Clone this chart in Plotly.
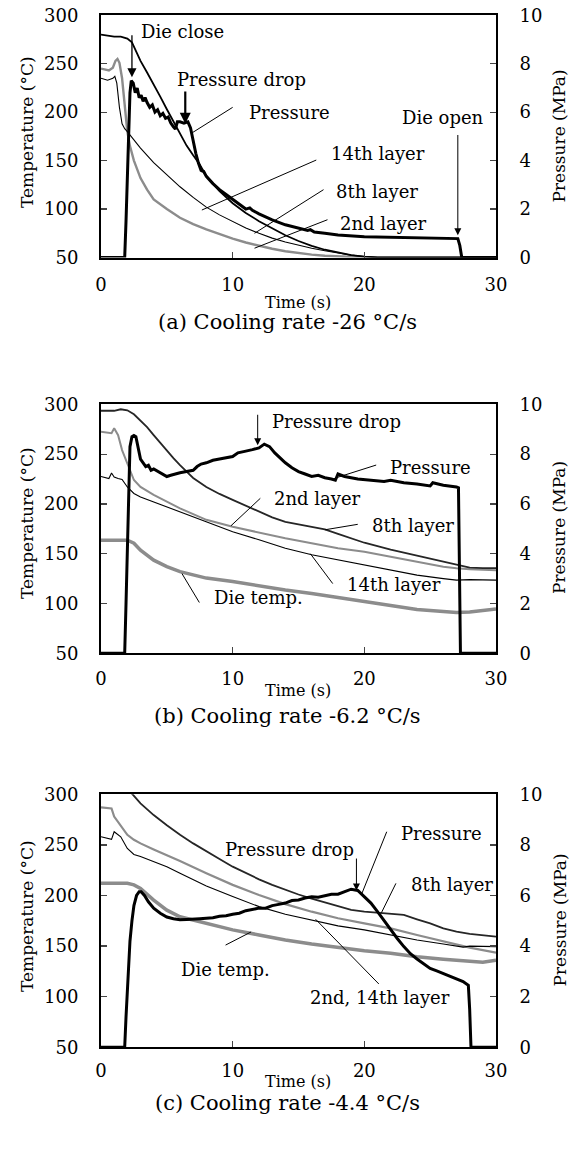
import plotly.graph_objects as go

W, H = 571, 1153

# ---------------- Panel (a): cooling rate -26 °C/s ----------------
a_8th_t = [0, 1, 1.5, 2.0, 2.35, 2.7, 3, 3.5, 4, 4.5, 5, 5.5, 6, 6.5, 7, 7.5, 8, 8.5, 9, 10, 11, 12, 13, 14, 15, 16, 17, 18, 19, 20, 21, 30]
a_8th_T = [280, 278, 278, 276, 272, 261, 253, 241, 229, 216, 203, 190, 177, 165.5, 155.5, 146, 134, 126, 118.5, 106, 96, 87.5, 80, 73, 67, 62, 58, 55, 52.5, 51, 50, 50]

a_14th_t = [0, 0.5, 0.9, 1.05, 1.2, 1.4, 1.6, 1.8, 2.0, 2.5, 3, 4, 5, 6, 7, 8, 9, 10, 11, 12, 13, 14, 15, 16, 17, 18, 19, 20, 21, 30]
a_14th_T = [235, 233, 235, 237, 230, 205, 188, 183, 180, 171, 163, 148, 135, 123, 112, 102, 94, 87, 80.5, 75, 70, 66, 62.5, 59.5, 57, 54.5, 52.5, 51, 50, 50]

a_2nd_t = [0, 0.6, 0.9, 1.1, 1.25, 1.4, 1.6, 1.8, 2.0, 2.2, 2.5, 3, 3.5, 4, 5, 6, 7, 8, 9, 10, 11, 12, 13, 14, 15, 16, 17, 18, 19, 20, 30]
a_2nd_T = [245, 243, 246, 253, 255, 251, 235, 205, 180, 165, 150, 132, 120, 110, 100, 91, 84.5, 79, 74, 69.5, 65.5, 62, 59, 56.5, 54.5, 53, 51.8, 51, 50.5, 50, 50]

a_p_t = [0, 1.8, 1.9, 2.0, 2.1, 2.2, 2.3, 2.45, 2.6, 2.75, 2.9, 3.05, 3.2, 3.35, 3.5, 3.7, 3.9, 4.1, 4.3, 4.5, 4.7, 4.9, 5.1, 5.3, 5.5, 5.65, 5.8, 6.0, 6.3, 6.6, 6.8, 7.0, 7.2, 7.4, 7.6, 7.8, 8.0, 8.5, 9.0, 9.5, 10, 10.5, 11, 11.3, 11.5, 12, 13, 14, 15, 15.7, 15.9, 16.2, 17, 18, 20, 22, 24, 26, 27.1, 27.25, 27.4, 30]
a_p_P = [0, 0, 1.5, 3.5, 5.5, 6.8, 7.3, 7.2, 6.8, 7.0, 6.6, 6.7, 6.45, 6.6, 6.4, 6.2, 6.3, 6.0, 6.1, 5.85, 5.95, 5.75, 5.8, 5.55, 5.4, 5.3, 5.6, 5.6, 5.55, 5.6, 5.35, 4.8, 4.3, 3.9, 3.6, 3.55, 3.35, 3.05, 2.8, 2.6, 2.4, 2.2, 2.0, 2.05, 1.95, 1.8, 1.55, 1.35, 1.2, 1.12, 1.15, 1.05, 1.0, 0.93, 0.86, 0.83, 0.8, 0.78, 0.78, 0.5, 0, 0]

# ---------------- Panel (b): cooling rate -6.2 °C/s ----------------
b_8th_t = [0, 1, 1.5, 2, 2.5, 3, 3.5, 4, 4.5, 5, 5.5, 6, 6.5, 7, 8, 9, 10, 11, 12, 13, 14, 15, 16, 17, 18, 19, 20, 22, 24, 26, 27, 28, 29, 30]
b_8th_T = [293.5, 293.5, 295, 294, 290, 284, 277, 269, 261, 253, 246, 239, 232, 226, 217, 210, 204, 198, 192, 186.5, 182, 179.5, 177.5, 174.5, 170, 165.5, 161, 154, 148, 142, 139, 136, 135.5, 135.5]

b_2nd_t = [0, 0.8, 1.0, 1.3, 1.6, 2.0, 2.5, 3, 4, 6, 8, 10, 12, 14, 16, 18, 20, 22, 24, 26, 27, 28, 30]
b_2nd_T = [272.5, 271, 276, 269, 254, 241, 224, 217, 209, 195.5, 184, 177, 171, 165.5, 160.5, 155.5, 152, 147, 142, 137, 135.5, 134.5, 133.5]

b_14th_t = [0, 0.6, 0.8, 1.0, 1.3, 1.6, 2.0, 2.5, 3, 4, 6, 8, 10, 12, 14, 16, 18, 20, 22, 24, 26, 27, 28, 30]
b_14th_T = [227.5, 225.5, 231, 227, 225.5, 224.5, 217, 210.5, 207, 202, 192, 182, 172, 164, 155.5, 149, 144, 139, 133.5, 128.5, 125, 123.5, 124, 123.5]

b_die_t = [0, 2, 2.5, 3, 4, 5, 6, 8, 10, 12, 14, 16, 18, 20, 22, 24, 26, 27, 28, 29, 30]
b_die_T = [163.5, 163.5, 160.5, 153.5, 143.5, 137, 132, 125.5, 122, 117.5, 113.5, 110, 106, 102, 97.5, 94, 92, 91, 91.5, 93, 94.5]

b_p_t = [0, 1.8, 1.9, 2.0, 2.1, 2.2, 2.35, 2.5, 2.65, 2.8, 3.0, 3.2, 3.4, 3.6, 3.8, 4.0, 4.3, 4.6, 5.0, 5.3, 5.6, 6.0, 6.5, 7.0, 7.3, 7.6, 8.0, 8.5, 9.0, 9.5, 10.0, 10.4, 10.7, 11.0, 11.5, 12.0, 12.4, 12.8, 13.2, 13.6, 14.0, 14.5, 15.0, 15.5, 16.0, 16.5, 17.0, 17.5, 17.8, 18.0, 18.5, 19.5, 20.5, 21.5, 22.0, 23.0, 24.0, 25.0, 25.2, 26.0, 27.0, 27.15, 27.3, 30]
b_p_P = [0, 0, 2.0, 4.5, 7.0, 8.3, 8.7, 8.75, 8.7, 8.3, 7.8, 7.65, 7.5, 7.55, 7.35, 7.4, 7.3, 7.2, 7.1, 7.15, 7.2, 7.25, 7.3, 7.35, 7.5, 7.6, 7.65, 7.75, 7.8, 7.85, 7.9, 8.05, 8.1, 8.12, 8.18, 8.25, 8.4, 8.3, 8.05, 7.85, 7.65, 7.45, 7.3, 7.2, 7.1, 7.15, 7.05, 7.0, 6.95, 7.2, 7.1, 7.0, 6.95, 6.9, 6.95, 6.85, 6.8, 6.72, 6.85, 6.75, 6.68, 6.65, 0, 0]

# ---------------- Panel (c): cooling rate -4.4 °C/s ----------------
c_8th_t = [0, 1, 2, 2.4, 3, 4, 5, 6, 7, 8, 9, 10, 11, 12, 13, 14, 15, 16, 17, 18, 19, 20, 21, 22, 23, 24, 25, 26, 27, 28, 29, 30]
c_8th_T = [318, 312, 304, 300, 291, 279.5, 269.5, 260, 251.5, 243.5, 236, 228.5, 222, 216, 210.5, 205.5, 201, 197, 193, 189, 185.7, 184, 183, 182.4, 180.8, 176.5, 172.5, 167.5, 164.3, 162, 160.3, 159.3]

c_2nd_t = [0, 0.8, 1.0, 1.5, 2, 2.5, 3, 4, 5, 6, 8, 10, 12, 14, 16, 18, 20, 22, 24, 26, 28, 30]
c_2nd_T = [287, 286, 278, 269.5, 260, 255, 251.5, 245.5, 240, 234, 222, 210.5, 200.5, 191.5, 184, 177.5, 172.5, 167.5, 161, 154.5, 148.5, 143.5]

c_14th_t = [0, 0.8, 1.0, 1.5, 2, 2.5, 3, 4, 5, 6, 8, 10, 12, 14, 16, 18, 20, 22, 24, 26, 27.5, 28, 30]
c_14th_T = [258, 255.5, 263, 258, 246.5, 240.5, 238.5, 233.5, 228.5, 222, 209.5, 199, 189, 181.5, 176, 170, 166, 161, 156, 152, 149, 150, 149.5]

c_die_t = [0, 2, 2.5, 3, 4, 5, 6, 8, 10, 12, 14, 16, 18, 20, 22, 24, 26, 28, 29, 30]
c_die_T = [212, 212, 210.5, 207, 195.5, 185.5, 179, 172.5, 166, 161, 156, 152, 148.5, 145.5, 143, 139.5, 137, 134.5, 134, 136]

c_p_t = [0, 1.8, 1.9, 2.0, 2.1, 2.2, 2.35, 2.5, 2.7, 2.9, 3.05, 3.3, 3.6, 4.0, 4.5, 5.0, 5.5, 6.0, 6.5, 7.0, 7.5, 8.0, 8.5, 9.0, 9.5, 10.0, 10.5, 11.0, 11.5, 12.0, 12.5, 13.0, 13.5, 14.0, 14.5, 15.0, 15.5, 16.0, 16.5, 17.0, 17.5, 18.0, 18.5, 19.0, 19.5, 20.0, 20.5, 21.0, 21.5, 22.0, 22.5, 23.0, 23.5, 24.0, 24.5, 25.0, 25.5, 26.0, 26.5, 27.0, 27.5, 27.9, 28.0, 28.1, 30]
c_p_P = [0, 0, 1.2, 2.4, 3.4, 4.2, 5.0, 5.6, 6.0, 6.15, 6.15, 6.0, 5.75, 5.5, 5.3, 5.15, 5.08, 5.04, 5.05, 5.05, 5.08, 5.1, 5.12, 5.18, 5.2, 5.26, 5.3, 5.4, 5.45, 5.5, 5.5, 5.6, 5.65, 5.7, 5.8, 5.82, 5.9, 5.95, 5.93, 6.0, 6.05, 6.05, 6.15, 6.25, 6.2, 5.95, 5.7, 5.36, 5.0, 4.64, 4.3, 3.98, 3.7, 3.49, 3.3, 3.12, 3.02, 2.92, 2.8, 2.7, 2.6, 2.45, 1.5, 0, 0]

# tick labels
x_ticks = [0, 10, 20, 30]
t_ticks = [50, 100, 150, 200, 250, 300]
p_ticks = [0, 2, 4, 6, 8, 10]

captions = ["(a) Cooling rate -26 °C/s", "(b) Cooling rate -6.2 °C/s", "(c) Cooling rate -4.4 °C/s"]

# ---------------- styling ----------------
FONT = "DejaVu Serif"
BLACK = "#000000"
DARK = "#262626"
GRAY = "#8c8c8c"

def px(x):
    return x / W

def py(y):
    return 1 - y / H

# panel pixel boxes in the target picture (top, bottom)
boxes = [(15.3, 257.5), (404.3, 653.3), (794.3, 1047.3)]
XL, XR = 101, 496
xstand = [10, 8, 6]            # tick label standoff per panel
time_y = [303, 690, 1081]      # centre of "Time (s)"
cap_y = [322, 716, 1103]       # centre of caption
tcen = [132, 523, 916]         # centre of temperature title
pcen = [136.5, 528, 920.5]     # centre of pressure title

fig = go.Figure()

panels = [
    dict(series=[(a_2nd_t, a_2nd_T, GRAY, 2.4), (a_14th_t, a_14th_T, BLACK, 1.1), (a_8th_t, a_8th_T, BLACK, 1.8)],
         p=(a_p_t, a_p_P)),
    dict(series=[(b_die_t, b_die_T, GRAY, 3.5), (b_2nd_t, b_2nd_T, GRAY, 2.0), (b_14th_t, b_14th_T, BLACK, 1.1), (b_8th_t, b_8th_T, DARK, 1.8)],
         p=(b_p_t, b_p_P)),
    dict(series=[(c_die_t, c_die_T, GRAY, 3.5), (c_2nd_t, c_2nd_T, GRAY, 2.2), (c_14th_t, c_14th_T, BLACK, 1.1), (c_8th_t, c_8th_T, DARK, 1.8)],
         p=(c_p_t, c_p_P)),
]

layout = dict(width=W, height=H, margin=dict(l=0, r=0, t=0, b=0, autoexpand=False),
              paper_bgcolor="white", plot_bgcolor="white", showlegend=False,
              font=dict(family=FONT, size=18, color="black"))

annotations = []
shapes = []

for i, pan in enumerate(panels):
    n = i + 1
    xa = "x" if n == 1 else f"x{n}"
    ya = "y" if n == 1 else f"y{2*n-1}"
    yb = f"y{2*n}"
    top, bot = boxes[i]
    for (tt, vv, col, wd) in pan["series"]:
        fig.add_trace(go.Scatter(x=tt, y=vv, mode="lines", line=dict(color=col, width=wd),
                                 xaxis=xa, yaxis=ya, hoverinfo="skip"))
    fig.add_trace(go.Scatter(x=pan["p"][0], y=pan["p"][1], mode="lines", line=dict(color=BLACK, width=3),
                             xaxis=xa, yaxis=yb, hoverinfo="skip"))
    xkey = "xaxis" if n == 1 else f"xaxis{n}"
    ykey = "yaxis" if n == 1 else f"yaxis{2*n-1}"
    y2key = f"yaxis{2*n}"
    common = dict(ticks="inside", ticklen=6, tickwidth=1.2, showline=True, linewidth=2, linecolor="black",
                  showgrid=False, zeroline=False, automargin=False, ticklabeloverflow="allow",
                  tickfont=dict(family=FONT, size=18))
    layout[xkey] = dict(domain=[px(XL), px(XR)], anchor=ya, range=[0, 30], tickvals=x_ticks,
                        mirror=True, ticklabelstandoff=xstand[i], **common)
    layout[ykey] = dict(domain=[py(bot), py(top)], anchor=xa, range=[50, 300], tickvals=t_ticks,
                        ticklabelstandoff=17, **common)
    layout[y2key] = dict(domain=[py(bot), py(top)], anchor=xa, overlaying=ya, side="right", range=[0, 10],
                         tickvals=p_ticks, ticklabelstandoff=18, **common)
    annotations.append(dict(text="Temperature (°C)", textangle=-90, x=px(27), y=py(tcen[i]), xref="paper",
                            yref="paper", xanchor="center", yanchor="middle",
                            showarrow=False, font=dict(family=FONT, size=17)))
    annotations.append(dict(text="Pressure (MPa)", textangle=-90, x=px(559), y=py(pcen[i]), xref="paper",
                            yref="paper", xanchor="center", yanchor="middle",
                            showarrow=False, font=dict(family=FONT, size=17)))
    annotations.append(dict(text="Time (s)", x=px(298), y=py(time_y[i]), xref="paper", yref="paper",
                            xanchor="center", yanchor="middle",
                            showarrow=False, font=dict(family=FONT, size=16)))
    annotations.append(dict(text=captions[i], x=px(287), y=py(cap_y[i]), xref="paper", yref="paper",
                            xanchor="center", yanchor="middle",
                            showarrow=False, font=dict(family=FONT, size=21)))

# labels (text, t, T) per panel; pointer lines ((t0,T0),(t1,T1)); arrows (t, T_from, T_to, width)
labels = [
    [("Die close", 2.85, 283), ("Pressure drop", 5.6, 234), ("Pressure", 11.1, 200), ("14th layer", 17.3, 157),
     ("8th layer", 17.7, 118), ("2nd layer", 18.0, 85), ("Die open", 22.7, 194.5)],
    [("Pressure drop", 12.8, 282.6), ("Pressure", 21.8, 236.7), ("2nd layer", 13.0, 205.6), ("8th layer", 20.4, 178),
     ("14th layer", 18.5, 119), ("Die temp.", 8.4, 106)],
    [("Pressure drop", 9.3, 245), ("Pressure", 22.6, 261.5), ("8th layer", 23.4, 210.4), ("Die temp.", 5.9, 126.4),
     ("2nd, 14th layer", 15.7, 99.4)],
]
pointers = [
    [((10.0, 205), (6.84, 178)), ((16.35, 150.6), (7.66, 99)), ((16.9, 120), (11.66, 75)), ((17.2, 89), (11.66, 59.6))],
    [((20.9, 239), (17.8, 226)), ((12.1, 205.6), (9.87, 178)), ((19.5, 179.5), (17.0, 174)), ((17.6, 120), (15.9, 150)),
     ((7.47, 101), (6.15, 130))],
    [((21.7, 263), (19.8, 201.5)), ((22.4, 212), (21.3, 183)), ((9.46, 151), (11.4, 164)), ((21.1, 112.6), (16.3, 176.5))],
]
arrows = [
    [(2.35, 281, 236, 1.3), (6.4, 223, 188, 2.2), (27.1, 178, 73, 1.0)],
    [(11.9, 291, 259, 1.0)],
    [(19.4, 238, 205, 1.0)],
]

for i in range(3):
    n = i + 1
    xa = "x" if n == 1 else f"x{n}"
    ya = "y" if n == 1 else f"y{2*n-1}"
    for (txt, tx, ty) in labels[i]:
        annotations.append(dict(text=txt, x=tx, y=ty, xref=xa, yref=ya, xanchor="left", yanchor="middle",
                                showarrow=False, font=dict(family=FONT, size=18)))
    for ((x0, y0), (x1, y1)) in pointers[i]:
        shapes.append(dict(type="line", x0=x0, y0=y0, x1=x1, y1=y1, xref=xa, yref=ya,
                           line=dict(color="black", width=1)))
    for (ax_, t0, t1, wd) in arrows[i]:
        annotations.append(dict(text="", x=ax_, y=t1, ax=ax_, ay=t0, xref=xa, yref=ya, axref=xa, ayref=ya,
                                showarrow=True, arrowhead=2, arrowsize=1.0 if wd > 1.5 else 1.4,
                                arrowwidth=wd, arrowcolor="black"))

layout["annotations"] = annotations
layout["shapes"] = shapes
fig.update_layout(**layout)
fig.write_html("out.html", config={"displayModeBar": False, "staticPlot": True},
               post_script="document.documentElement.style.margin='0';document.body.style.margin='0';"
                           "document.body.style.padding='0';document.body.style.overflow='hidden';")
